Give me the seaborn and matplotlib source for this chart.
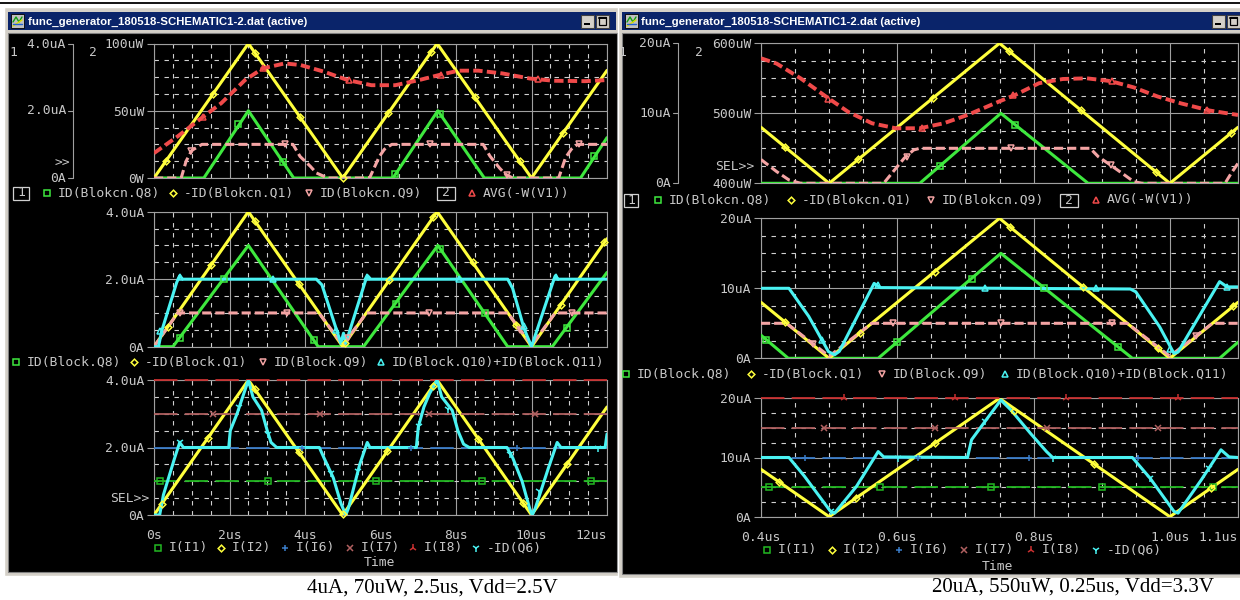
import matplotlib
matplotlib.use("Agg")
import matplotlib.pyplot as plt
import seaborn as sns
from matplotlib.patches import Rectangle

# ----------------------------
# Data (time in us, current in uA, power in uW)
# ----------------------------
# left window: 4uA, 70uW, 2.5us, Vdd=2.5V
L_XTICKS = [0, 2, 4, 6, 8, 10, 12]
L_XLABELS = ["0s", "2us", "4us", "6us", "8us", "10us", "12us"]

L_TRI_T = [0, 2.5, 5, 7.5, 10, 12]
L_TRI_I = [0, 4.0, 0, 4.0, 0, 3.2]

# top panel
L1_Q8_T = [0, 1.32, 2.5, 3.7, 6.33, 7.52, 8.75, 11.3, 12]
L1_Q8_I = [0, 0, 2.0, 0, 0, 2.0, 0, 0, 1.2]
L1_Q8_MK_T = [2.23, 3.43, 6.38, 7.58, 11.66]
L1_Q8_MK_I = [1.6, 0.47, 0.12, 1.9, 0.65]
L1_Q1_MK_T = [0.31, 1.57, 2.67, 3.86, 5.0, 6.2, 7.35, 8.5, 9.69, 10.84]
L1_Q1_MK_I = [0.5, 2.51, 3.73, 1.82, 0.0, 1.92, 3.76, 2.4, 0.5, 1.34]
L1_Q9_T = [0, 0.72, 0.85, 1.0, 1.27, 3.68, 3.87, 4.14, 4.3, 4.6, 5.71, 5.97, 6.1, 6.3,
           8.72, 8.9, 9.15, 9.3, 9.5, 10.72, 10.9, 11.05, 11.22, 12]
L1_Q9_I = [0, 0, 0.5, 0.82, 1.0, 1.0, 0.64, 0.35, 0.15, 0, 0, 0.64, 0.85, 1.0,
           1.0, 0.65, 0.3, 0.12, 0, 0, 0.6, 0.85, 1.0, 1.0]
L1_Q9_MK_T = [0.99, 3.48, 7.31, 9.36, 11.26]
L1_Q9_MK_I = [0.8, 1.0, 1.0, 0.1, 1.0]
L1_AVG_T = [0, 0.63, 1.31, 1.78, 2.41, 2.88, 3.46, 3.88, 4.51, 5.13, 5.76, 6.39, 7.02,
            7.54, 8.07, 8.59, 9.22, 9.95, 10.58, 11.42, 12]
L1_AVG_P = [18.5, 31, 45.7, 55.6, 72.8, 81.5, 85.2, 84, 79, 72.8, 69, 69, 72.8,
            76.5, 79.8, 79.8, 77.8, 74, 72.3, 72, 72.8]
L1_AVG_MK_T = [1.29, 2.88, 5.16, 7.59, 10.16]
L1_AVG_MK_P = [45, 81.5, 72.8, 76.5, 73.5]

# middle panel
L2_Q8_T = [0, 0.5, 2.5, 4.35, 5.55, 7.52, 9.37, 10.55, 12]
L2_Q8_I = [0, 0, 3.0, 0, 0, 3.0, 0, 0, 2.2]
L2_Q8_MK_T = [0.68, 1.86, 4.24, 6.4, 7.57, 8.76, 10.93]
L2_Q8_MK_I = [0.25, 2.0, 0.2, 1.27, 2.9, 1.0, 0.55]
L2_Q1_MK_T = [0.37, 1.52, 2.67, 3.83, 5.06, 6.23, 7.4, 8.44, 9.6, 10.78, 11.93]
L2_Q1_MK_I = [0.59, 2.43, 3.73, 1.87, 0.1, 1.97, 3.84, 2.5, 0.64, 1.25, 3.09]
L2_Q9_T = [0, 0.63, 4.37, 5.0, 5.63, 9.37, 10.0, 10.63, 12]
L2_Q9_I = [0, 1.0, 1.0, 0.05, 1.0, 1.0, 0.05, 1.0, 1.0]
L2_Q9_MK_T = [0.68, 3.52, 5.15, 7.29, 9.7, 11.08]
L2_Q9_MK_I = [1.0, 1.0, 0.25, 1.0, 0.5, 1.0]
L2_Q10_T = [0, 0.12, 0.2, 0.6, 0.68, 0.76, 4.3, 4.45, 4.82, 4.95, 5.02, 5.08, 5.6, 5.66,
            5.74, 9.37, 9.5, 9.8, 10.0, 10.58, 10.63, 10.7, 12]
L2_Q10_I = [0, 0, 0.45, 1.9, 2.1, 2.0, 2.0, 1.83, 0.55, 0.1, 0.4, 0.1, 1.95, 2.1,
            2.0, 2.0, 1.73, 0.55, 0.0, 1.95, 2.1, 2.0, 2.0]
L2_Q10_MK_T = [0.16, 0.68, 3.14, 4.82, 5.64, 8.07, 9.8, 10.66]
L2_Q10_MK_I = [0.46, 2.07, 2.0, 0.5, 2.07, 2.0, 0.6, 2.07]

# bottom panel
L3_CONST_T = [0, 12]
L3_I1 = [1.0, 1.0]
L3_I6 = [2.0, 2.0]
L3_I7 = [3.0, 3.0]
L3_I8 = [4.0, 4.0]
L3_I1_MK_T = [0.16, 3.02, 5.87, 8.7, 11.57]
L3_I6_MK_T = [3.92, 6.8, 9.62]
L3_I7_MK_T = [1.57, 4.4, 7.28, 10.1]
L3_I2_MK_T = [0.21, 1.42, 2.67, 3.83, 5.01, 6.18, 7.38, 8.59, 9.77, 10.94]
L3_I2_MK_I = [0.34, 2.27, 3.73, 1.87, 0.02, 1.89, 3.81, 2.26, 0.37, 1.5]
L3_Q6_T = [0, 0.15, 0.25, 0.55, 0.68, 0.78, 1.98, 2.02, 2.2, 2.35, 2.5, 2.62, 2.85, 3.0,
           3.1, 3.25, 4.38, 4.5, 4.75, 4.95, 5.08, 5.15, 5.45, 5.65, 5.72, 6.95, 7.0,
           7.15, 7.3, 7.5, 7.62, 7.9, 8.05, 8.2, 8.35, 9.35, 9.5, 9.75, 9.95, 10.02,
           10.1, 10.45, 10.68, 10.78, 11.95, 12.0]
L3_Q6_I = [0, 0, 0.6, 1.7, 2.15, 2.0, 2.0, 2.5, 3.0, 3.5, 4.0, 3.5, 3.1, 2.5,
           2.15, 2.0, 2.0, 1.7, 1.1, 0.35, 0.0, 0.2, 1.5, 2.15, 2.0, 2.0, 2.6,
           3.2, 3.6, 4.0, 3.5, 3.1, 2.5, 2.1, 2.0, 2.0, 1.7, 1.0, 0.2, 0.0,
           0.2, 1.4, 2.15, 2.0, 2.0, 2.4]
L3_Q6_MK_T = [0.68, 2.25, 3.03, 4.69, 5.4, 7.02, 7.79, 9.42, 10.2, 11.77]
L3_Q6_MK_I = [2.15, 3.2, 2.4, 1.24, 1.3, 2.65, 3.15, 1.8, 0.7, 2.0]

# right window: 20uA, 550uW, 0.25us, Vdd=3.3V
R_XTICKS = [0.4, 0.6, 0.8, 1.0, 1.1]
R_XLABELS = ["0.4us", "0.6us", "0.8us", "1.0us", "1.1us"]

R_TRI_T = [0.4, 0.5, 0.75, 1.0, 1.1]
R_TRI_I = [8.0, 0, 20.0, 0, 8.0]

# top panel
R1_Q8_T = [0.4, 0.633, 0.752, 0.88, 1.1]
R1_Q8_I = [0, 0, 10.0, 0, 0]
R1_Q8_MK_T = [0.663, 0.773]
R1_Q8_MK_I = [2.5, 8.3]
R1_Q1_MK_T = [0.435, 0.543, 0.652, 0.764, 0.869, 0.98, 1.09]
R1_Q1_MK_I = [5.2, 3.44, 12.16, 18.88, 10.48, 1.6, 7.2]
R1_Q9_T = [0.4, 0.423, 0.441, 0.458, 0.58, 0.592, 0.61, 0.624, 0.633, 0.883, 0.895,
           0.913, 0.93, 0.947, 0.959, 1.081, 1.09, 1.1]
R1_Q9_I = [3.4, 1.67, 0.48, 0, 0, 1.43, 3.57, 4.76, 5.0, 5.0, 3.8,
           2.6, 1.43, 0.24, 0, 0, 1.43, 2.86]
R1_Q9_MK_T = [0.614, 0.767, 0.913]
R1_Q9_MK_I = [3.8, 5.0, 2.6]
R1_AVG_T = [0.4, 0.423, 0.458, 0.499, 0.528, 0.563, 0.598, 0.633, 0.668, 0.703, 0.749,
            0.773, 0.808, 0.843, 0.878, 0.913, 0.947, 0.982, 1.017, 1.058, 1.1]
R1_AVG_P = [578.6, 571, 550, 521.4, 502, 485.7, 478.6, 478.6, 485.7, 497.6, 516.7,
            526.2, 543, 549, 550, 546, 537, 524, 514, 504, 497.6]
R1_AVG_MK_T = [0.499, 0.636, 0.77, 0.915, 1.055]
R1_AVG_MK_P = [521, 478.6, 526, 545.5, 505]

# middle panel
R2_Q8_T = [0.4, 0.44, 0.572, 0.752, 0.945, 1.073, 1.1]
R2_Q8_I = [3.3, 0, 0, 15.0, 0, 0, 2.3]
R2_Q8_MK_T = [0.408, 0.6, 0.709, 0.816, 0.924]
R2_Q8_MK_I = [2.64, 2.33, 11.4, 10.0, 1.6]
R2_Q1_MK_T = [0.435, 0.546, 0.655, 0.766, 0.873, 0.982, 1.093]
R2_Q1_MK_I = [5.2, 3.68, 12.4, 18.72, 10.16, 1.44, 7.44]
R2_Q9_T = [0.4, 0.4375, 0.5, 0.5625, 0.9375, 1.0, 1.0625, 1.1]
R2_Q9_I = [5.0, 5.0, 0.3, 5.0, 5.0, 0.3, 5.0, 5.0]
R2_Q9_MK_T = [0.477, 0.594, 0.752, 0.915, 1.038]
R2_Q9_MK_I = [2.05, 5.0, 5.0, 5.0, 3.2]
R2_Q10_T = [0.4, 0.441, 0.47, 0.499, 0.508, 0.515, 0.566, 0.575, 0.942, 0.95, 0.985,
            1.006, 1.012, 1.073, 1.084, 1.1]
R2_Q10_I = [10.0, 10.0, 6.0, 0.95, 0.5, 1.0, 10.7, 10.1, 9.9, 9.5, 4.5,
            0.7, 0.9, 10.95, 10.2, 10.2]
R2_Q10_MK_T = [0.49, 0.572, 0.729, 0.891, 1.0, 1.084]
R2_Q10_MK_I = [2.6, 10.5, 10.0, 10.0, 1.4, 10.2]

# bottom panel
R3_CONST_T = [0.4, 1.1]
R3_I1 = [5.0, 5.0]
R3_I6 = [10.0, 10.0]
R3_I7 = [15.0, 15.0]
R3_I8 = [20.0, 20.0]
R3_I1_MK_T = [0.412, 0.575, 0.738, 0.901, 1.064]
R3_I6_MK_T = [0.464, 0.63, 0.793, 0.953]
R3_I7_MK_T = [0.493, 0.656, 0.819, 0.982]
R3_I8_MK_T = [0.522, 0.685, 0.848, 1.012]
R3_I2_MK_T = [0.426, 0.54, 0.656, 0.772, 0.888, 1.061]
R3_I2_MK_I = [5.92, 3.2, 12.48, 17.8, 8.96, 4.88]
R3_Q6_T = [0.4, 0.441, 0.464, 0.502, 0.508, 0.54, 0.572, 0.58, 0.703, 0.709, 0.732,
           0.752, 0.767, 0.796, 0.819, 0.828, 0.945, 0.971, 1.006, 1.012, 1.046,
           1.075, 1.087, 1.1]
R3_Q6_I = [10.0, 10.0, 6.8, 0.9, 0.6, 5.1, 11.0, 10.1, 10.0, 13.0, 16.6,
           19.7, 18.0, 14.0, 11.0, 10.0, 10.0, 6.5, 0.9, 0.6, 6.2,
           11.3, 10.1, 10.0]
R3_Q6_MK_T = [0.502, 0.601, 0.729, 0.828, 0.971, 1.058]
R3_Q6_MK_I = [0.9, 10.0, 16.1, 10.0, 6.5, 8.3]

CAPTIONS = ["4uA, 70uW, 2.5us, Vdd=2.5V", "20uA, 550uW, 0.25us, Vdd=3.3V"]
TITLE = "func_generator_180518-SCHEMATIC1-2.dat (active)"

# ----------------------------
# Style
# ----------------------------
sns.set_theme(style="dark")
plt.rcParams["font.family"] = ["DejaVu Sans Mono"]

W, H = 1240, 600
FS = 9.4
TEXT = "#c8c8c8"
GRID_MAJOR = "#a0a0a0"
GRID_MINOR = "#d0d0d0"
GREEN, YELLOW, PINK, RED, CYAN = "#3ee83e", "#ffff3c", "#f4a4a4", "#f04a4a", "#4af2f2"
I1_C, I6_C, I7_C, I8_C = "#22b822", "#3a7cc8", "#b06060", "#c83030"
FRAME, NAVY = "#d4d0c8", "#0a246a"

fig = plt.figure(figsize=(W / 100, H / 100), dpi=100)
fig.patch.set_facecolor("white")

# canvas axes in pixel coordinates for the window chrome
cv = fig.add_axes([0, 0, 1, 1])
cv.set_xlim(0, W)
cv.set_ylim(H, 0)
cv.axis("off")
cv.set_zorder(-1)


def frac(x0, y0, x1, y1):
    return [x0 / W, 1 - y1 / H, (x1 - x0) / W, (y1 - y0) / H]


def rect(x0, y0, x1, y1, fc, ec="none", lw=0.0):
    cv.add_patch(Rectangle((x0, y0), x1 - x0, y1 - y0, facecolor=fc,
                           edgecolor=ec, linewidth=lw))


def window(x0, x1, bottom, title_x, buttons_x):
    rect(x0, 7, x1, bottom + 4, FRAME, "#ffffff", 1.0)
    rect(x0 + 4, 12, x1 - 4, 30, NAVY)
    rect(x0 + 4, 33, x1 - 3, bottom, "black", "#808080", 0.8)
    ix = x0 + 7
    rect(ix, 14, ix + 13, 28, "#c0c0c0", "black", 0.6)
    cv.plot([ix + 2, ix + 5, ix + 8, ix + 11], [22, 17, 22, 17], color="#10a010", lw=1.0)
    cv.plot([ix + 2, ix + 11], [26, 20], color="#e0e000", lw=1.0)
    cv.plot([ix + 2, ix + 11], [24, 24], color="#2060d0", lw=1.0)
    cv.text(title_x, 21.5, TITLE, color="white", fontsize=8.2, fontweight="bold",
            family="Liberation Sans", va="center", ha="left")
    bx = buttons_x
    for k in range(2):
        b0 = bx + k * 15
        rect(b0, 15, b0 + 13, 28, FRAME, "#404040", 0.8)
    rect(bx + 3, 23, bx + 9, 25, "black")
    cv.add_patch(Rectangle((bx + 18, 17), 7, 8, facecolor="none", edgecolor="black", lw=0.9))
    cv.plot([bx + 18, bx + 25], [17.5, 17.5], color="black", lw=1.4)


cv.plot([0, W], [2.5, 2.5], color="black", lw=1.3)
window(4, 620, 572, 28, 581)
window(618, 1260, 574, 641, 1212)


def finish(ax, xlim, xmajor, xminor, ylim, ymajor, yminor, ylabels, xlabels=None):
    ax.set_xlim(*xlim)
    ax.set_ylim(*ylim)
    ax.set_xticks(xmajor)
    ax.set_xticks(xminor, minor=True)
    ax.set_yticks(ymajor)
    ax.set_yticks(yminor, minor=True)
    ax.set_yticklabels(ylabels)
    ax.set_xlabel("")
    ax.set_ylabel("")
    ax.grid(True, which="major", color=GRID_MAJOR, linewidth=0.8, linestyle="-")
    ax.grid(True, which="minor", color=GRID_MINOR, linewidth=0.8, linestyle=(0, (4, 5)))
    ax.set_axisbelow(True)
    ax.tick_params(which="minor", length=0)
    ax.tick_params(axis="y", which="major", left=True, length=5, width=0.8,
                   color=GRID_MAJOR, labelcolor=TEXT, labelsize=FS, pad=2)
    ax.tick_params(axis="x", which="major", length=0, labelcolor=TEXT, labelsize=FS, pad=10)
    if xlabels is None:
        ax.tick_params(axis="x", labelbottom=False)
    else:
        ax.set_xticklabels(xlabels)
        ax.get_xticklabels()[-1].set_horizontalalignment("right")
    for s in ax.spines.values():
        s.set_color(GRID_MAJOR)
        s.set_linewidth(0.8)


def trace(ax, t, y, color, ls="-", lw=2.2, clip=True):
    sns.lineplot(x=t, y=y, ax=ax, color=color, linewidth=lw, linestyle=ls,
                 estimator=None, sort=False, errorbar=None, clip_on=clip, zorder=3)


def marks(ax, t, y, color, marker, ms=4.0):
    sns.lineplot(x=t, y=y, ax=ax, color=color, linestyle="none", marker=marker,
                 markersize=ms, markerfacecolor="none", markeredgecolor=color,
                 markeredgewidth=1.1, estimator=None, sort=False, errorbar=None,
                 clip_on=False, zorder=3.5)


PINK_LS = (0, (3, 1.3))
RED_LS = (0, (2.4, 1.1))
CONST_LS = (0, (13, 4))

L_XMIN = [0.5 * k for k in range(25)]
R_XMIN = [0.4 + 0.05 * k for k in range(15)]
L_YMIN = [0.5 * k for k in range(9)]
R_YMIN = [2.5 * k for k in range(9)]

# ---- left window ----
ax = fig.add_axes(frac(154, 43.5, 607, 178))
ax.set_facecolor("none")
trace(ax, L1_Q8_T, L1_Q8_I, GREEN)
marks(ax, L1_Q8_MK_T, L1_Q8_MK_I, GREEN, "s")
trace(ax, L_TRI_T, L_TRI_I, YELLOW)
marks(ax, L1_Q1_MK_T, L1_Q1_MK_I, YELLOW, "D", 3.4)
trace(ax, L1_Q9_T, L1_Q9_I, PINK, PINK_LS)
marks(ax, L1_Q9_MK_T, L1_Q9_MK_I, PINK, "v")
finish(ax, (0, 12), L_XTICKS, L_XMIN, (0, 4), [0, 2, 4], L_YMIN, ["0W", "50uW", "100uW"])
axp = ax.twinx()
trace(axp, L1_AVG_T, L1_AVG_P, RED, RED_LS, 2.8)
marks(axp, L1_AVG_MK_T, L1_AVG_MK_P, RED, "^")
axp.set_ylim(0, 100)
axp.set_xlim(0, 12)
axp.axis("off")

ax = fig.add_axes(frac(154, 211.7, 607, 346.7))
ax.set_facecolor("none")
trace(ax, L2_Q8_T, L2_Q8_I, GREEN)
marks(ax, L2_Q8_MK_T, L2_Q8_MK_I, GREEN, "s")
trace(ax, L_TRI_T, L_TRI_I, YELLOW)
marks(ax, L2_Q1_MK_T, L2_Q1_MK_I, YELLOW, "D", 3.4)
trace(ax, L2_Q9_T, L2_Q9_I, PINK, PINK_LS)
marks(ax, L2_Q9_MK_T, L2_Q9_MK_I, PINK, "v")
trace(ax, L2_Q10_T, L2_Q10_I, CYAN)
marks(ax, L2_Q10_MK_T, L2_Q10_MK_I, CYAN, "^")
finish(ax, (0, 12), L_XTICKS, L_XMIN, (0, 4), [0, 2, 4], L_YMIN, ["0A", "2.0uA", "4.0uA"])

ax = fig.add_axes(frac(154, 380, 607, 515))
ax.set_facecolor("none")
trace(ax, L3_CONST_T, L3_I1, I1_C, CONST_LS, 1.3, False)
marks(ax, L3_I1_MK_T, [L3_I1[0]] * len(L3_I1_MK_T), I1_C, "s")
trace(ax, L_TRI_T, L_TRI_I, YELLOW)
marks(ax, L3_I2_MK_T, L3_I2_MK_I, YELLOW, "D", 3.4)
trace(ax, L3_CONST_T, L3_I6, I6_C, CONST_LS, 1.3, False)
marks(ax, L3_I6_MK_T, [L3_I6[0]] * len(L3_I6_MK_T), I6_C, "+", 5)
trace(ax, L3_CONST_T, L3_I7, I7_C, CONST_LS, 1.3, False)
marks(ax, L3_I7_MK_T, [L3_I7[0]] * len(L3_I7_MK_T), I7_C, "x", 5)
trace(ax, L3_CONST_T, L3_I8, I8_C, CONST_LS, 1.3, False)
trace(ax, L3_Q6_T, L3_Q6_I, CYAN)
marks(ax, L3_Q6_MK_T, L3_Q6_MK_I, CYAN, "1", 6)
finish(ax, (0, 12), L_XTICKS, L_XMIN, (0, 4), [0, 2, 4], L_YMIN, ["0A", "2.0uA", "4.0uA"],
       L_XLABELS)

# ---- right window ----
ax = fig.add_axes(frac(761, 43.3, 1238, 183.3))
ax.set_facecolor("none")
trace(ax, R1_Q8_T, R1_Q8_I, GREEN)
marks(ax, R1_Q8_MK_T, R1_Q8_MK_I, GREEN, "s")
trace(ax, R_TRI_T, R_TRI_I, YELLOW)
marks(ax, R1_Q1_MK_T, R1_Q1_MK_I, YELLOW, "D", 3.4)
trace(ax, R1_Q9_T, R1_Q9_I, PINK, PINK_LS)
marks(ax, R1_Q9_MK_T, R1_Q9_MK_I, PINK, "v")
finish(ax, (0.4, 1.1), R_XTICKS, R_XMIN, (0, 20), [0, 10, 20], R_YMIN,
       ["400uW", "500uW", "600uW"])
axp = ax.twinx()
trace(axp, R1_AVG_T, R1_AVG_P, RED, RED_LS, 2.8)
marks(axp, R1_AVG_MK_T, R1_AVG_MK_P, RED, "^")
axp.set_ylim(400, 600)
axp.set_xlim(0.4, 1.1)
axp.axis("off")

ax = fig.add_axes(frac(761, 218.3, 1238, 358.3))
ax.set_facecolor("none")
trace(ax, R2_Q8_T, R2_Q8_I, GREEN)
marks(ax, R2_Q8_MK_T, R2_Q8_MK_I, GREEN, "s")
trace(ax, R_TRI_T, R_TRI_I, YELLOW)
marks(ax, R2_Q1_MK_T, R2_Q1_MK_I, YELLOW, "D", 3.4)
trace(ax, R2_Q9_T, R2_Q9_I, PINK, PINK_LS)
marks(ax, R2_Q9_MK_T, R2_Q9_MK_I, PINK, "v")
trace(ax, R2_Q10_T, R2_Q10_I, CYAN)
marks(ax, R2_Q10_MK_T, R2_Q10_MK_I, CYAN, "^")
finish(ax, (0.4, 1.1), R_XTICKS, R_XMIN, (0, 20), [0, 10, 20], R_YMIN,
       ["0A", "10uA", "20uA"])

ax = fig.add_axes(frac(761, 398.3, 1238, 516.7))
ax.set_facecolor("none")
trace(ax, R3_CONST_T, R3_I1, I1_C, CONST_LS, 1.3, False)
marks(ax, R3_I1_MK_T, [R3_I1[0]] * len(R3_I1_MK_T), I1_C, "s")
trace(ax, R_TRI_T, R_TRI_I, YELLOW)
marks(ax, R3_I2_MK_T, R3_I2_MK_I, YELLOW, "D", 3.4)
trace(ax, R3_CONST_T, R3_I6, I6_C, CONST_LS, 1.3, False)
marks(ax, R3_I6_MK_T, [R3_I6[0]] * len(R3_I6_MK_T), I6_C, "+", 5)
trace(ax, R3_CONST_T, R3_I7, I7_C, CONST_LS, 1.3, False)
marks(ax, R3_I7_MK_T, [R3_I7[0]] * len(R3_I7_MK_T), I7_C, "x", 5)
trace(ax, R3_CONST_T, R3_I8, I8_C, CONST_LS, 1.3, False)
marks(ax, R3_I8_MK_T, [R3_I8[0]] * len(R3_I8_MK_T), I8_C, "2", 6)
trace(ax, R3_Q6_T, R3_Q6_I, CYAN)
marks(ax, R3_Q6_MK_T, R3_Q6_MK_I, CYAN, "1", 6)
finish(ax, (0.4, 1.1), R_XTICKS, R_XMIN, (0, 20), [0, 10, 20], R_YMIN,
       ["0A", "10uA", "20uA"], R_XLABELS)

# ---- axis 1 of the top panels, labels and legends on the canvas ----
for ax_x, top, bot, labels in [(73, 44, 178, ["4.0uA", "2.0uA", "0A"]),
                               (678, 43.3, 183.3, ["20uA", "10uA", "0A"])]:
    cv.plot([ax_x, ax_x], [top, bot], color=GRID_MAJOR, lw=0.8)
    for yy, lab in zip([top, (top + bot) / 2, bot], labels):
        cv.plot([ax_x - 5, ax_x], [yy, yy], color=GRID_MAJOR, lw=0.8)
        cv.text(ax_x - 7, yy, lab, color=TEXT, fontsize=FS, ha="right", va="center")


def label(x, y, s, ha="center"):
    cv.text(x, y, s, color=TEXT, fontsize=FS, ha=ha, va="center")


label(13, 52, "1")
label(93, 52, "2")
label(622, 52, "1")
label(699, 53, "2")
label(62, 163, ">>")
label(130, 499, "SEL>>")
label(735, 167, "SEL>>")
label(380, 563, "Time")
label(997, 566, "Time")


def numbox(x0, x1, y, s):
    cv.add_patch(Rectangle((x0, y - 6.5), x1 - x0, 13, facecolor="none",
                           edgecolor="#d0d0d0", lw=0.9))
    label((x0 + x1) / 2, y, s)


def item(xm, y, marker, color, text, ms=4.0):
    cv.plot([xm], [y], marker=marker, color=color, mfc="none", mec=color, ms=ms, mew=1.1)
    label(xm + 11, y, text, ha="left")


y = 193
numbox(13, 29, y, "1")
item(47, y, "s", GREEN, "ID(Blokcn.Q8)")
item(173, y, "D", YELLOW, "-ID(Blokcn.Q1)", 3.4)
item(309, y, "v", PINK, "ID(Blokcn.Q9)")
numbox(437, 455, y, "2")
item(472, y, "^", RED, "AVG(-W(V1))")

y = 362
item(16, y, "s", GREEN, "ID(Block.Q8)")
item(134, y, "D", YELLOW, "-ID(Block.Q1)", 3.4)
item(263, y, "v", PINK, "ID(Block.Q9)")
item(381, y, "^", CYAN, "ID(Block.Q10)+ID(Block.Q11)")

y = 548
item(158, y, "s", I1_C, "I(I1)")
item(221, y, "D", YELLOW, "I(I2)", 3.4)
item(285, y, "+", I6_C, "I(I6)", 5)
item(350, y, "x", I7_C, "I(I7)", 5)
item(413, y, "2", I8_C, "I(I8)", 6)
item(476, y, "1", CYAN, "-ID(Q6)", 6)

y = 200
numbox(624, 638, y, "1")
item(658, y, "s", GREEN, "ID(Blokcn.Q8)")
item(791, y, "D", YELLOW, "-ID(Blokcn.Q1)", 3.4)
item(931, y, "v", PINK, "ID(Blokcn.Q9)")
numbox(1060, 1078, y, "2")
item(1096, y, "^", RED, "AVG(-W(V1))")

y = 374
item(626, y, "s", GREEN, "ID(Block.Q8)")
item(751, y, "D", YELLOW, "-ID(Block.Q1)", 3.4)
item(882, y, "v", PINK, "ID(Block.Q9)")
item(1005, y, "^", CYAN, "ID(Block.Q10)+ID(Block.Q11)")

y = 550
item(767, y, "s", I1_C, "I(I1)")
item(832, y, "D", YELLOW, "I(I2)", 3.4)
item(899, y, "+", I6_C, "I(I6)", 5)
item(964, y, "x", I7_C, "I(I7)", 5)
item(1031, y, "2", I8_C, "I(I8)", 6)
item(1096, y, "1", CYAN, "-ID(Q6)", 6)

# captions under the windows
for cx, cy, cap in [(432, 588, CAPTIONS[0]), (1073, 587, CAPTIONS[1])]:
    cv.text(cx, cy, cap, color="black", fontsize=15, family="Liberation Serif",
            ha="center", va="center")

fig.savefig("out.png", dpi=100, facecolor="white")
